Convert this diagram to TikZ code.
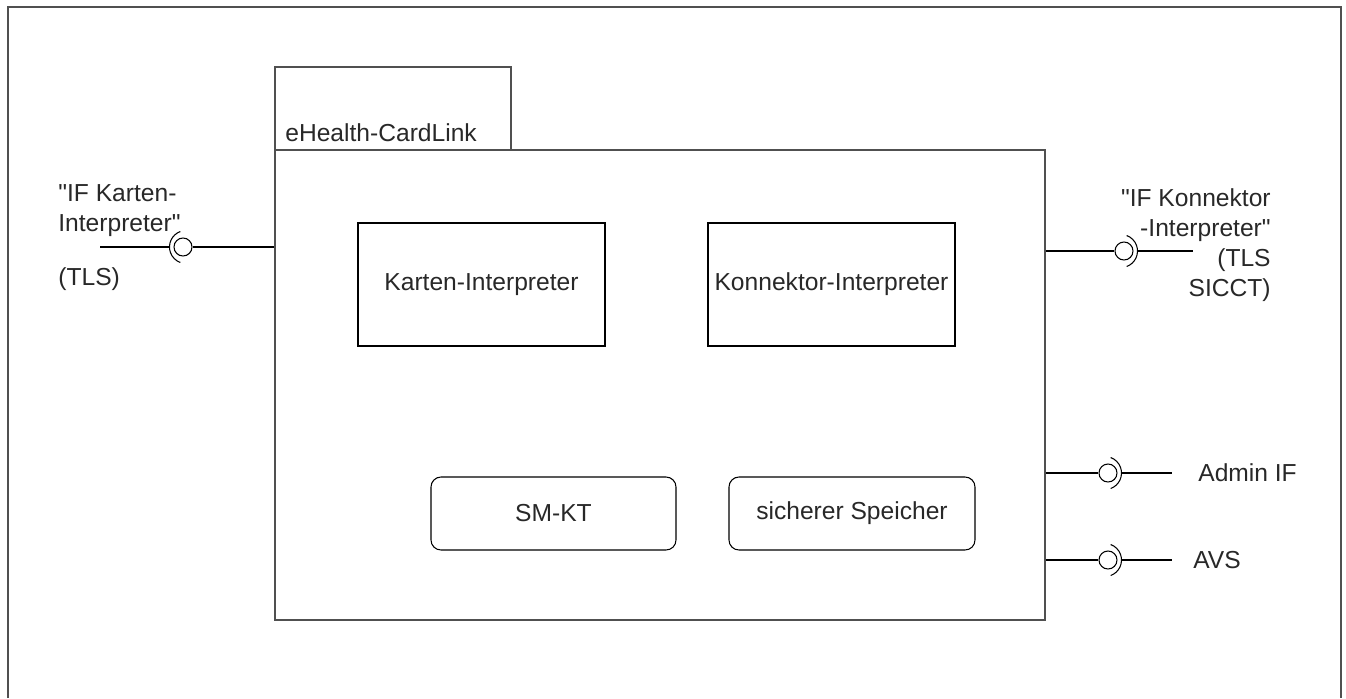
\documentclass[tikz,border=0pt]{standalone}
\usepackage{fontspec}
\setmainfont{Liberation Sans}
\usetikzlibrary{positioning}
\definecolor{edgegray}{RGB}{80,80,80}
\definecolor{textgray}{RGB}{40,40,40}
\tikzset{
  frame/.style={draw=edgegray, line width=1.1pt},
  pkg/.style={draw=edgegray, line width=1pt, inner sep=0pt},
  part/.style={draw, line width=0.6pt, minimum width=4.94cm, minimum height=2.46cm, text=textgray},
  store/.style={draw, line width=0.6pt, rounded corners=0.2cm, minimum height=1.46cm, text=textgray},
  ball/.style={draw, line width=0.6pt, circle, minimum size=0.36cm, inner sep=0pt},
  wire/.style={line width=0.6pt},
  lbl/.style={inner sep=0pt, text=textgray}
}

\begin{document}
\begin{tikzpicture}[font=\fontsize{14}{17}\selectfont]
 \useasboundingbox (0,0) rectangle (26.92,-13.96);
 % outer frame, open at the bottom
 \draw [frame] (0.16,-13.96) -- (0.16,-0.14) -- (26.82,-0.14) -- (26.82,-13.96);
 \begin {scope}
  \node [pkg, minimum width=4.72cm, minimum height=1.66cm] (tab) at (7.86,-2.17) {};
  \node [pkg, minimum width=15.4cm, minimum height=9.4cm] (main) at (13.2,-7.7) {};
  \node [lbl, anchor=base west] (title) at (5.7,-2.82) {eHealth-CardLink};
  \node [part] (karten) at (9.63,-5.69) {Karten-Interpreter};
  \node [part] (konn) at (16.63,-5.69) {Konnektor-Interpreter};
  \node [store, minimum width=4.9cm] (smkt) at (11.07,-10.27) {SM-KT};
  \node [store, minimum width=4.92cm] (safe) at (17.04,-10.27) {sicherer Speicher};
 \end {scope}
 % left interface
 \begin {scope}
  \node [ball] (kball) at (3.66,-4.94) {};
  \coordinate (kfree) at (2.0,-4.94);
  \draw [wire] (kball) -- (kball -| main.west);
  \draw [wire] ([shift={(110:0.33)}]kball.center) ++(0.06,0) arc (110:250:0.33);
  \draw [wire] (kfree) -- ([xshift=-0.27cm]kball.center);
  \node [lbl, anchor=west, align=left] (klabel) at (1.16,-4.22) {\textquotedbl IF Karten-\\Interpreter\textquotedbl};
  \node [lbl, anchor=west] (ktls) at (1.16,-5.58) {(TLS)};
 \end {scope}
 % right interfaces
 \begin {scope}
  \node [ball] (nball) at (22.48,-5.02) {};
  \coordinate (nfree) at (23.86,-5.02);
  \draw [wire] (nball -| main.east) -- (nball);
  \draw [wire] ([shift={(-70:0.33)}]nball.center) ++(-0.06,0) arc (-70:70:0.33);
  \draw [wire] ([xshift=0.27cm]nball.center) -- (nfree);
  \node [lbl, anchor=east, align=right] (nlabel) at (25.42,-4.9) {\textquotedbl IF Konnektor\\-Interpreter\textquotedbl\\(TLS\\SICCT)};

  \node [ball] (aball) at (22.16,-9.46) {};
  \coordinate (afree) at (23.44,-9.46);
  \draw [wire] (aball -| main.east) -- (aball);
  \draw [wire] ([shift={(-70:0.33)}]aball.center) ++(-0.06,0) arc (-70:70:0.33);
  \draw [wire] ([xshift=0.27cm]aball.center) -- (afree);
  \node [lbl, anchor=west] (alabel) at (23.96,-9.46) {Admin IF};

  \node [ball] (vball) at (22.16,-11.2) {};
  \coordinate (vfree) at (23.44,-11.2);
  \draw [wire] (vball -| main.east) -- (vball);
  \draw [wire] ([shift={(-70:0.33)}]vball.center) ++(-0.06,0) arc (-70:70:0.33);
  \draw [wire] ([xshift=0.27cm]vball.center) -- (vfree);
  \node [lbl, anchor=west] (vlabel) at (23.86,-11.2) {AVS};
 \end {scope}
\end{tikzpicture}
\end{document}
